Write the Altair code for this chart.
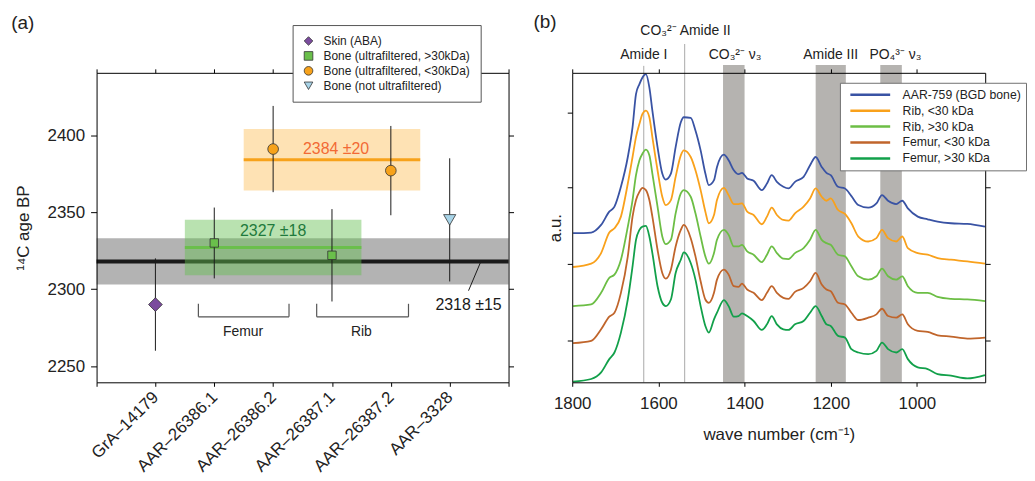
import json
import altair as alt
import pandas as pd

FONT = "Liberation Sans"

# ---------------- panel (a): radiocarbon ages ----------------
samples = ["GrA–14179", "AAR–26386.1", "AAR–26386.2", "AAR–26387.1", "AAR–26387.2", "AAR–3328"]
sample_pos = [1, 2, 3, 4, 5, 6]
ages = [2290, 2330, 2391, 2322, 2377, 2345]
age_err = [30, 23, 28, 30, 29, 40]
sample_type = ["Skin (ABA)", "Bone (ultrafiltered, >30kDa)", "Bone (ultrafiltered, <30kDa)",
               "Bone (ultrafiltered, >30kDa)", "Bone (ultrafiltered, <30kDa)", "Bone (not ultrafiltered)"]
type_order = ["Skin (ABA)", "Bone (ultrafiltered, >30kDa)", "Bone (ultrafiltered, <30kDa)", "Bone (not ultrafiltered)"]

pool_text = ["2318 ±15", "2327 ±18", "2384 ±20"]
pool_mean = [2318, 2327, 2384]
pool_err = [15, 18, 20]
pool_x0 = [0, 1.5, 2.5]
pool_x1 = [7, 4.5, 5.5]

bracket_names = ["Femur", "Rib"]
bracket_x0 = [1.73, 3.74]
bracket_x1 = [3.27, 5.30]
bracket_mid = [2.49, 4.50]

# ---------------- panel (b): FTIR spectra ----------------
wavenumber = [1798, 1756, 1733, 1714, 1702, 1687, 1671, 1660, 1652, 1644, 1637, 1629, 1621, 1614,
              1602, 1591, 1583, 1571, 1560, 1548, 1541, 1525, 1514, 1502, 1491, 1483, 1471,
              1464, 1448, 1437, 1425, 1414, 1406, 1394, 1379, 1360, 1348, 1337, 1325, 1310, 1298,
              1283, 1263, 1248, 1235, 1221, 1210, 1200, 1183, 1167, 1152, 1136,
              1113, 1094, 1081, 1067, 1048, 1034, 1021, 998, 975, 952, 921, 883, 842]
aar759 = [4.80, 4.82, 5.05, 5.45, 5.60, 6.20, 7.10, 8.00, 9.00, 9.30, 9.50, 9.60, 9.20, 8.50,
          7.40, 6.60, 6.42, 6.60, 7.40, 8.15, 8.30, 8.28, 7.90, 7.30, 6.60, 6.25, 6.40,
          6.80, 7.17, 7.00, 6.70, 6.58, 6.62, 6.45, 6.38, 6.10, 6.30, 6.55, 6.35, 6.20, 6.15,
          6.35, 6.50, 6.85, 7.10, 6.80, 6.62, 6.55, 6.20, 6.15, 5.92, 5.65,
          5.57, 5.70, 5.95, 5.78, 5.68, 5.78, 5.55, 5.30, 5.22, 5.15, 5.10, 5.08, 5.00]
rib_lt30 = [3.78, 3.88, 4.20, 4.82, 4.95, 5.30, 6.30, 7.10, 7.70, 8.10, 8.40, 8.50, 8.30, 7.70,
            6.70, 5.90, 5.65, 5.80, 6.50, 7.15, 7.30, 7.10, 6.70, 6.10, 5.45, 5.10, 5.35,
            5.80, 6.17, 5.95, 5.68, 5.68, 5.70, 5.45, 5.35, 5.07, 5.30, 5.57, 5.35, 5.20, 5.18,
            5.40, 5.60, 5.85, 6.15, 5.90, 5.78, 5.85, 5.50, 5.38, 5.10, 4.70,
            4.55, 4.65, 4.90, 4.65, 4.55, 4.70, 4.35, 4.20, 4.15, 4.05, 4.00, 3.95, 3.88]
rib_gt30 = [2.60, 2.65, 3.00, 3.45, 3.55, 4.00, 5.00, 5.80, 6.55, 7.00, 7.20, 7.32, 7.15, 6.60,
            5.60, 4.70, 4.47, 4.60, 5.40, 6.00, 6.10, 5.90, 5.40, 4.70, 4.10, 3.88, 4.20,
            4.60, 4.90, 4.75, 4.40, 4.40, 4.45, 4.25, 4.15, 3.93, 4.15, 4.40, 4.20, 4.03, 4.02,
            4.20, 4.35, 4.60, 4.90, 4.60, 4.50, 4.45, 4.15, 4.10, 3.80, 3.50,
            3.40, 3.50, 3.73, 3.50, 3.40, 3.50, 3.20, 3.00, 3.00, 2.88, 2.82, 2.80, 2.75]
femur_lt30 = [1.48, 1.55, 1.90, 2.28, 2.40, 3.00, 4.10, 5.30, 5.80, 6.05, 6.17, 6.10, 5.80, 5.30,
              4.30, 3.60, 3.43, 3.70, 4.40, 4.90, 5.05, 4.65, 4.10, 3.35, 2.80, 2.70, 3.00,
              3.40, 3.70, 3.55, 3.20, 3.18, 3.28, 3.10, 3.00, 2.78, 3.00, 3.20, 3.00, 2.85, 2.82,
              3.03, 3.15, 3.35, 3.60, 3.25, 3.10, 3.05, 2.70, 2.65, 2.40, 2.18,
              2.25, 2.35, 2.52, 2.30, 2.25, 2.35, 2.05, 1.85, 1.82, 1.72, 1.68, 1.62, 1.65]
femur_gt30 = [0.32, 0.40, 0.60, 1.00, 1.20, 1.80, 2.80, 3.80, 4.60, 4.90, 5.00, 5.02, 4.70, 4.20,
              3.20, 2.70, 2.60, 2.80, 3.60, 4.00, 4.22, 3.90, 3.40, 2.60, 2.00, 1.80, 2.20,
              2.40, 2.78, 2.60, 2.28, 2.30, 2.38, 2.30, 2.15, 1.88, 2.05, 2.30, 2.05, 1.90, 1.88,
              2.05, 2.15, 2.40, 2.60, 2.30, 2.05, 2.00, 1.70, 1.65, 1.30, 1.20,
              1.15, 1.25, 1.50, 1.30, 1.20, 1.30, 1.00, 0.75, 0.70, 0.55, 0.50, 0.42, 0.52]
series_names = ["AAR-759 (BGD bone)", "Rib, <30 kDa", "Rib, >30 kDa", "Femur, <30 kDa", "Femur, >30 kDa"]
series_values = [aar759, rib_lt30, rib_gt30, femur_lt30, femur_gt30]

band_names = ["CO₃²⁻ ν₃", "Amide III", "PO₄³⁻ ν₃"]
band_lo = [1400, 1165, 1035]
band_hi = [1450, 1235, 1085]
marker_names = ["Amide I", "CO₃²⁻ Amide II"]
marker_wn = [1634, 1539]

# ---------------- styles ----------------
type_colors = ["#7b4c9e", "#6abf4b", "#f7a21b", "#a8d4e8"]
type_shapes = ["diamond", "square", "circle", "triangle-down"]
type_marker_size = {"Skin (ABA)": 190, "Bone (ultrafiltered, >30kDa)": 72,
                    "Bone (ultrafiltered, <30kDa)": 115, "Bone (not ultrafiltered)": 150}
pool_band_color = ["#b3b3b3", "#64be50", "#fee2b4"]
pool_band_opacity = [1.0, 0.45, 1.0]
pool_line_color = ["#1a1a1a", "#6abf4b", "#f7a21b"]
pool_line_width = [4, 3, 3]
pool_text_color = ["#1a1a1a", "#1f7a3d", "#f26a35"]
series_colors = ["#3953a4", "#f9a11b", "#6cbe45", "#c0652b", "#12a04a"]

# annotation anchors (data units)
pool_text_x = [6.32, 3.0, 4.07]
pool_text_y = [2290, 2338, 2391]
leader_x = [6.32, 6.53]
leader_y = [2299, 2318]
bracket_low, bracket_high, bracket_label_y = 2282, 2290.5, 2272
a_label_pos = (-1.45, 2473)
b_label_pos = (1890, 11.16)
top_label_y = [10.18, 10.90]

axis_common = dict(domainColor="black", tickColor="black", domainWidth=1, tickWidth=1, grid=False,
                   zindex=1, labelColor="#222222", titleColor="#222222", titleFontWeight="normal",
                   labelFlush=False, labelOverlap=False)

# ====================== panel (a) ======================
xa = alt.Scale(domain=[0, 7], nice=False, zero=False)
ya = alt.Scale(domain=[2239.5, 2440.5], nice=False, zero=False)
label_expr = ("datum.value >= 1 && datum.value <= 6 ? " + json.dumps(samples, ensure_ascii=False)
              + "[datum.value - 1] : ''")
yticks_a = [2250, 2300, 2350, 2400]

df_pool = pd.DataFrame({"label": pool_text, "mean": pool_mean, "err": pool_err, "x0": pool_x0, "x1": pool_x1})
df_pool["lo"] = df_pool["mean"] - df_pool["err"]
df_pool["hi"] = df_pool["mean"] + df_pool["err"]
df_pool["band_color"] = pool_band_color
df_pool["band_opacity"] = pool_band_opacity
df_pool["line_color"] = pool_line_color
df_pool["line_width"] = pool_line_width
df_pool["tx"] = pool_text_x
df_pool["ty"] = pool_text_y
df_pool["text_color"] = pool_text_color
df_all = df_pool.iloc[[0]]      # pooled mean of all samples (grey)
df_sub = df_pool.iloc[[1, 2]]   # sub-group means (green, orange)

band_enc = dict(
    x2="x1:Q", y2="hi:Q",
    color=alt.Color("band_color:N", scale=None),
    opacity=alt.Opacity("band_opacity:Q", scale=None),
)
line_enc = dict(
    x2="x1:Q",
    color=alt.Color("line_color:N", scale=None),
    strokeWidth=alt.StrokeWidth("line_width:Q", scale=None),
)

band_all = alt.Chart(df_all).mark_rect().encode(
    x=alt.X("x0:Q", scale=xa, axis=alt.Axis(orient="bottom", values=list(range(8)), labelExpr=label_expr,
                                             labelAngle=-45, labelAlign="right", labelBaseline="middle",
                                             labelFontSize=17, labelPadding=8, tickSize=4, title=None,
                                             **axis_common)),
    y=alt.Y("lo:Q", scale=ya, axis=alt.Axis(orient="left", values=yticks_a, format="d", labelFontSize=17,
                                            tickSize=6, labelPadding=6, title="¹⁴C age BP", titleFontSize=17,
                                            titlePadding=15, **axis_common)),
    **band_enc,
)
line_all = alt.Chart(df_all).mark_rule().encode(
    x=alt.X("x0:Q", scale=xa, axis=alt.Axis(orient="top", values=list(range(8)), labels=False, tickSize=4,
                                             title=None, **axis_common)),
    y=alt.Y("mean:Q", scale=ya, axis=alt.Axis(orient="right", values=yticks_a, labels=False, tickSize=5,
                                              title=None, **axis_common)),
    **line_enc,
)
band_sub = alt.Chart(df_sub).mark_rect().encode(
    x=alt.X("x0:Q", scale=xa, axis=None), y=alt.Y("lo:Q", scale=ya, axis=None), **band_enc,
)
line_sub = alt.Chart(df_sub).mark_rule().encode(
    x=alt.X("x0:Q", scale=xa, axis=None), y=alt.Y("mean:Q", scale=ya, axis=None), **line_enc,
)

df_pts = pd.DataFrame({"sample": samples, "pos": sample_pos, "age": ages, "err": age_err, "type": sample_type})
df_pts["lo"] = df_pts["age"] - df_pts["err"]
df_pts["hi"] = df_pts["age"] + df_pts["err"]
df_pts["msize"] = df_pts["type"].map(type_marker_size)

errbars = alt.Chart(df_pts).mark_rule(color="#1a1a1a", strokeWidth=1).encode(
    x=alt.X("pos:Q", scale=xa, axis=None),
    y=alt.Y("lo:Q", scale=ya, axis=None),
    y2="hi:Q",
)

leg_a = alt.Legend(orient="none", legendX=197, legendY=-48, title=None, fillColor="white",
                   strokeColor="#555555", padding=10, labelFontSize=12, labelColor="#222222",
                   symbolSize=75, rowPadding=3, symbolStrokeColor="#333333", symbolStrokeWidth=0.8,
                   labelOffset=9, zindex=3)
points = alt.Chart(df_pts).mark_point(filled=True, opacity=1, stroke="#333333", strokeWidth=0.8).encode(
    x=alt.X("pos:Q", scale=xa, axis=None),
    y=alt.Y("age:Q", scale=ya, axis=None),
    shape=alt.Shape("type:N", scale=alt.Scale(domain=type_order, range=type_shapes), legend=leg_a),
    color=alt.Color("type:N", scale=alt.Scale(domain=type_order, range=type_colors), legend=leg_a),
    size=alt.Size("msize:Q", scale=None),
)

pool_labels = alt.Chart(df_pool).mark_text(fontSize=16, align="center", baseline="middle").encode(
    x=alt.X("tx:Q", scale=xa, axis=None),
    y=alt.Y("ty:Q", scale=ya, axis=None),
    text="label:N",
    color=alt.Color("text_color:N", scale=None),
)

df_leader = pd.DataFrame({"x": [leader_x[0]], "x2": [leader_x[1]], "y": [leader_y[0]], "y2": [leader_y[1]]})
leader = alt.Chart(df_leader).mark_rule(color="#1a1a1a", strokeWidth=1).encode(
    x=alt.X("x:Q", scale=xa, axis=None), x2="x2:Q",
    y=alt.Y("y:Q", scale=ya, axis=None), y2="y2:Q",
)

df_br = pd.DataFrame({"name": bracket_names, "x0": bracket_x0, "x1": bracket_x1, "mid": bracket_mid})
df_br["low"] = bracket_low
df_br["high"] = bracket_high
df_br["ly"] = bracket_label_y
br_h = alt.Chart(df_br).mark_rule(color="#555555", strokeWidth=1.2).encode(
    x=alt.X("x0:Q", scale=xa, axis=None), x2="x1:Q",
    y=alt.Y("low:Q", scale=ya, axis=None),
)
br_v0 = alt.Chart(df_br).mark_rule(color="#555555", strokeWidth=1.2).encode(
    x=alt.X("x0:Q", scale=xa, axis=None),
    y=alt.Y("low:Q", scale=ya, axis=None), y2="high:Q",
)
br_v1 = alt.Chart(df_br).mark_rule(color="#555555", strokeWidth=1.2).encode(
    x=alt.X("x1:Q", scale=xa, axis=None),
    y=alt.Y("low:Q", scale=ya, axis=None), y2="high:Q",
)
br_t = alt.Chart(df_br).mark_text(fontSize=14, color="#222222", baseline="middle").encode(
    x=alt.X("mid:Q", scale=xa, axis=None),
    y=alt.Y("ly:Q", scale=ya, axis=None),
    text="name:N",
)

df_alab = pd.DataFrame({"t": ["(a)"], "x": [a_label_pos[0]], "y": [a_label_pos[1]]})
a_lab = alt.Chart(df_alab).mark_text(fontSize=19, align="left", baseline="middle", color="#222222").encode(
    x=alt.X("x:Q", scale=xa, axis=None), y=alt.Y("y:Q", scale=ya, axis=None), text="t:N",
)

panel_a = alt.layer(band_all, line_all, band_sub, line_sub, errbars, points, pool_labels, leader,
                    br_h, br_v0, br_v1, br_t, a_lab
                    ).resolve_axis(x="independent", y="independent").properties(width=414, height=311)

# ====================== panel (b) ======================
xb = alt.Scale(domain=[841.5, 1800], reverse=True, nice=False, zero=False)
yb = alt.Scale(domain=[0.30, 9.64], nice=False, zero=False)
xticks_b = [1800, 1600, 1400, 1200, 1000]
yticks_b = [1.56, 3.87, 6.18, 8.45]

df_bands = pd.DataFrame({"name": band_names, "lo": band_lo, "hi": band_hi})
df_bands["v0"] = 0.30
df_bands["v1"] = 9.88
bands_b = alt.Chart(df_bands).mark_rect(color="#b5b3b0").encode(
    x=alt.X("lo:Q", scale=xb, axis=alt.Axis(orient="bottom", values=xticks_b, format="d", labelFontSize=17,
                                            tickSize=4, labelPadding=9, title="wave number (cm⁻¹)",
                                            titleFontSize=17, titlePadding=15, **axis_common)),
    x2="hi:Q",
    y=alt.Y("v0:Q", scale=yb, axis=alt.Axis(orient="left", values=yticks_b, labels=False, tickSize=5,
                                            title="a.u.", titleFontSize=17, titlePadding=2, **axis_common)),
    y2="v1:Q",
)

df_mark = pd.DataFrame({"name": marker_names, "wn": marker_wn, "v0": [0.30, 0.30], "v1": [9.85, 10.51]})
vlines = alt.Chart(df_mark).mark_rule(color="#a8a8a8", strokeWidth=1).encode(
    x=alt.X("wn:Q", scale=xb, axis=alt.Axis(orient="top", values=xticks_b, labels=False, tickSize=4,
                                            title=None, **axis_common)),
    y=alt.Y("v0:Q", scale=yb, axis=alt.Axis(orient="right", values=yticks_b, labels=False, tickSize=5,
                                            title=None, **axis_common)),
    y2="v1:Q",
)

rows = []
for name, vals in zip(series_names, series_values):
    for w, v in zip(wavenumber, vals):
        rows.append({"series": name, "wn": w, "au": v})
df_spec = pd.DataFrame(rows)

leg_b = alt.Legend(orient="none", legendX=269, legendY=10, title=None, fillColor="white",
                   strokeColor="#707070", padding=5, labelFontSize=12.3, labelColor="#222222",
                   symbolType="stroke", symbolSize=1600, symbolStrokeWidth=2.5, rowPadding=2,
                   clipHeight=14, symbolOffset=4, labelOffset=11, zindex=3)
spectra = alt.Chart(df_spec).mark_line(strokeWidth=1.8, interpolate="monotone").encode(
    x=alt.X("wn:Q", scale=xb, axis=None),
    y=alt.Y("au:Q", scale=yb, axis=None),
    color=alt.Color("series:N", scale=alt.Scale(domain=series_names, range=series_colors), legend=leg_b),
)

top_labels = marker_names + band_names
top_wn = [1634, 1537, 1422, 1200, 1050]
top_v = [top_label_y[0], top_label_y[1], top_label_y[0], top_label_y[0], top_label_y[0]]
df_top = pd.DataFrame({"t": top_labels, "wn": top_wn, "v": top_v})
top_text = alt.Chart(df_top).mark_text(fontSize=14, color="#222222", baseline="middle").encode(
    x=alt.X("wn:Q", scale=xb, axis=None), y=alt.Y("v:Q", scale=yb, axis=None), text="t:N",
)

df_blab = pd.DataFrame({"t": ["(b)"], "x": [b_label_pos[0]], "y": [b_label_pos[1]]})
b_lab = alt.Chart(df_blab).mark_text(fontSize=19, align="left", baseline="middle", color="#222222").encode(
    x=alt.X("x:Q", scale=xb, axis=None), y=alt.Y("y:Q", scale=yb, axis=None), text="t:N",
)

panel_b = alt.layer(bands_b, vlines, spectra, top_text, b_lab
                    ).resolve_axis(x="independent", y="independent").properties(width=415, height=311)

chart = alt.hconcat(panel_a, panel_b, spacing=64, bounds="flush",
                    padding={"left": 3, "top": 4, "right": 0, "bottom": 0}
                    ).resolve_scale(color="independent", shape="independent"
                    ).resolve_legend(color="independent", shape="independent"
                    ).configure(font=FONT).configure_view(stroke=None)

chart.save("out.html", embed_options={"renderer": "svg", "actions": False})
